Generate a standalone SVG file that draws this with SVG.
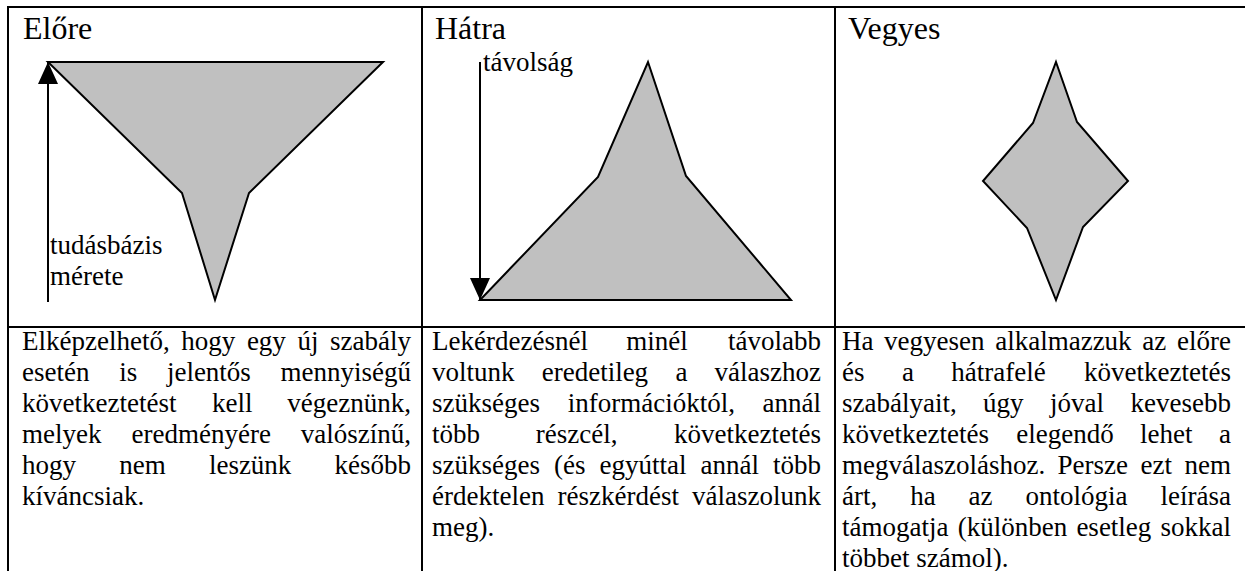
<svg xmlns="http://www.w3.org/2000/svg" width="1245" height="571" viewBox="0 0 1245 571">
<style>
.grid{stroke:#000;stroke-width:2;fill:none}
.shape{fill:#c0c0c0;stroke:#000;stroke-width:2;stroke-linejoin:miter}
.axis{stroke:#000;stroke-width:2;fill:none}
.h{font-family:'Liberation Serif','Times New Roman',serif;font-size:32px;fill:#000}
.t{font-family:'Liberation Serif','Times New Roman',serif;font-size:27px;fill:#000}
.e{text-anchor:end}
</style>
<defs>
<marker id="ah" markerUnits="userSpaceOnUse" markerWidth="22" markerHeight="20" refX="22" refY="10" orient="auto" viewBox="0 0 22 20">
<path d="M0,0 L22,10 L0,20 Z" fill="#000"/>
</marker>
</defs>
<rect width="1245" height="571" fill="#fff"/>
<g id="table">
<line class="grid" x1="7" y1="7" x2="1245" y2="7"/>
<line class="grid" x1="8" y1="6" x2="8" y2="571"/>
<line class="grid" x1="422" y1="6" x2="422" y2="571"/>
<line class="grid" x1="835" y1="6" x2="835" y2="571"/>
<line class="grid" x1="7" y1="327" x2="1245" y2="327"/>
</g>
<g font-family="Liberation Serif, serif">
<g id="elore">
<text class="h" x="23" y="39">Előre</text>
<polygon class="shape" points="48,62 383,62 249,193 215,300 182,193"/>
<text class="t" x="50" y="254">tudásbázis</text>
<text class="t" x="50" y="285">mérete</text>
</g>
<g id="hatra">
<text class="h" x="435" y="39">Hátra</text>
<polygon class="shape" points="648,62 686,176 791,300 480,300 598,177"/>
<text class="t" x="483" y="71">távolság</text>
</g>
<g id="vegyes">
<text class="h" x="848" y="39">Vegyes</text>
<polygon class="shape" points="1056,62 1077,122 1128,181 1083,227 1056,300 1027,228 983,181 1033,123"/>
</g>
<g id="connectors">
<line class="axis" x1="48" y1="302" x2="48" y2="62" marker-end="url(#ah)"/>
<line class="axis" x1="480" y1="62" x2="480" y2="300" marker-end="url(#ah)"/>
</g>
<g id="text-elore">
<text class="t" x="22" y="350">Elképzelhető,</text><text class="t" x="181.3" y="350">hogy</text><text class="t" x="246.9" y="350">egy</text><text class="t" x="297.5" y="350">új</text><text class="t e" x="411" y="350">szabály</text>
<text class="t" x="22" y="381">esetén</text><text class="t" x="119.2" y="381">is</text><text class="t" x="166.9" y="381">jelentős</text><text class="t e" x="411" y="381">mennyiségű</text>
<text class="t" x="22" y="412">következtetést</text><text class="t" x="212" y="412">kell</text><text class="t e" x="411" y="412">végeznünk,</text>
<text class="t" x="22" y="443">melyek</text><text class="t" x="131.5" y="443">eredményére</text><text class="t e" x="411" y="443">valószínű,</text>
<text class="t" x="22" y="474">hogy</text><text class="t" x="119.2" y="474">nem</text><text class="t" x="208.9" y="474">leszünk</text><text class="t e" x="411" y="474">később</text>
<text class="t" x="22" y="505">kíváncsiak.</text>
</g>
<g id="text-hatra">
<text class="t" x="432" y="350">Lekérdezésnél</text><text class="t" x="626.2" y="350">minél</text><text class="t e" x="821" y="350">távolabb</text>
<text class="t" x="432" y="381">voltunk</text><text class="t" x="541.7" y="381">eredetileg</text><text class="t" x="675.4" y="381">a</text><text class="t e" x="821" y="381">válaszhoz</text>
<text class="t" x="432" y="412">szükséges</text><text class="t" x="567.7" y="412">információktól,</text><text class="t e" x="821" y="412">annál</text>
<text class="t" x="432" y="443">több</text><text class="t" x="535.8" y="443">részcél,</text><text class="t e" x="821" y="443">következtetés</text>
<text class="t" x="432" y="474">szükséges</text><text class="t" x="554" y="474">(és</text><text class="t" x="599.5" y="474">egyúttal</text><text class="t" x="700.5" y="474">annál</text><text class="t e" x="821" y="474">több</text>
<text class="t" x="432" y="505">érdektelen</text><text class="t" x="557.6" y="505">részkérdést</text><text class="t e" x="821" y="505">válaszolunk</text>
<text class="t" x="432" y="536">meg).</text>
</g>
<g id="text-vegyes">
<text class="t" x="842" y="350">Ha</text><text class="t" x="884.1" y="350">vegyesen</text><text class="t" x="995.2" y="350">alkalmazzuk</text><text class="t" x="1142.3" y="350">az</text><text class="t e" x="1231" y="350">előre</text>
<text class="t" x="842" y="381">és</text><text class="t" x="901.9" y="381">a</text><text class="t" x="951.3" y="381">hátrafelé</text><text class="t e" x="1231" y="381">következtetés</text>
<text class="t" x="842" y="412">szabályait,</text><text class="t" x="983.1" y="412">úgy</text><text class="t" x="1050" y="412">jóval</text><text class="t e" x="1231" y="412">kevesebb</text>
<text class="t" x="842" y="443">következtetés</text><text class="t" x="1016.2" y="443">elegendő</text><text class="t" x="1140.1" y="443">lehet</text><text class="t e" x="1231" y="443">a</text>
<text class="t" x="842" y="474">megválaszoláshoz.</text><text class="t" x="1057.6" y="474">Persze</text><text class="t" x="1140.5" y="474">ezt</text><text class="t e" x="1231" y="474">nem</text>
<text class="t" x="842" y="505">árt,</text><text class="t" x="910.2" y="505">ha</text><text class="t" x="968.6" y="505">az</text><text class="t" x="1025.6" y="505">ontológia</text><text class="t e" x="1231" y="505">leírása</text>
<text class="t" x="842" y="536">támogatja</text><text class="t" x="957.7" y="536">(különben</text><text class="t" x="1076.4" y="536">esetleg</text><text class="t e" x="1231" y="536">sokkal</text>
<text class="t" x="842" y="567">többet számol).</text>
</g>
</g>
</svg>
